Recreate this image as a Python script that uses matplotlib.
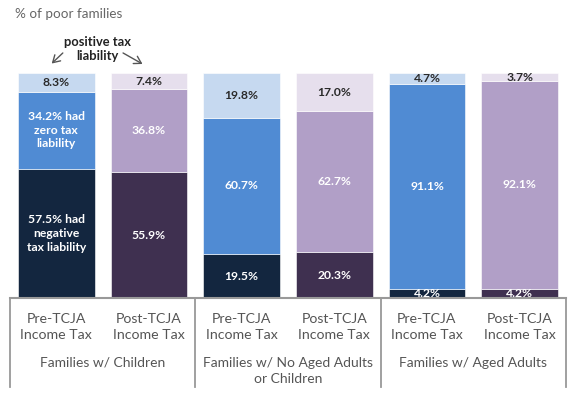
import matplotlib
matplotlib.use("Agg")
import matplotlib.pyplot as plt
import matplotlib.transforms as mtransforms

plt.rcParams['font.family'] = ['Lato', 'DejaVu Sans']

tick_labels = ["Pre-TCJA\nIncome Tax", "Post-TCJA\nIncome Tax"] * 3
group_labels = ["Families w/ Children", "Families w/ No Aged Adults\nor Children", "Families w/ Aged Adults"]
negative = [57.5, 55.9, 19.5, 20.3, 4.2, 4.2]
zero = [34.2, 36.8, 60.7, 62.7, 91.1, 92.1]
positive = [8.3, 7.4, 19.8, 17.0, 4.7, 3.7]

pre_colors = ["#13263f", "#508bd3", "#c6d9f0"]
post_colors = ["#3f3050", "#b19fc7", "#e6dfed"]

fig = plt.figure(figsize=(5.76, 3.94), dpi=100)
ax = fig.add_axes([10/576, 96/394, 556/576, 225/394])
ax.set_xlim(-0.5, 5.5)
ax.set_ylim(0, 100)

x = list(range(6))
w = 0.83
for i in x:
    cols = pre_colors if i % 2 == 0 else post_colors
    b0 = 0
    segs = [negative[i], zero[i], positive[i]]
    for k, v in enumerate(segs):
        ax.bar(i, v, bottom=b0, width=w, color=cols[k], edgecolor='white', linewidth=0.4)
        if i == 0 and k == 0:
            txt = "57.5% had\nnegative\ntax liability"
        elif i == 0 and k == 1:
            txt = "34.2% had\nzero tax\nliability"
        else:
            txt = f"{v:.1f}%"
        tc = "#2a2a2a" if k == 2 else "white"
        ax.text(i, b0 + v / 2, txt, ha='center', va='center', color=tc,
                fontsize=8.7, fontweight='bold', linespacing=1.3)
        b0 += v

for s in ['top', 'right', 'left']:
    ax.spines[s].set_visible(False)
ax.spines['bottom'].set_color('#999999')
ax.spines['bottom'].set_linewidth(1.5)
ax.set_yticks([])
ax.set_xticks(x)
ax.set_xticklabels(tick_labels, fontsize=10.2, color='#555555', linespacing=1.4)
ax.tick_params(axis='x', length=0, pad=10.5)

trans = mtransforms.blended_transform_factory(ax.transData, ax.transAxes)
for xb in [-0.5, 1.5, 3.5, 5.5]:
    ax.plot([xb, xb], [0, -0.396], transform=trans, color='#999999', lw=1.3, clip_on=False)

for g, lab in enumerate(group_labels):
    ax.text(2 * g + 0.5, -0.262, lab, transform=trans, ha='center', va='top',
            fontsize=10, color='#555555', linespacing=1.45)

fig.text(15/576, 1 - 14/394, "% of poor families", fontsize=9.7, color='#666666', va='center', ha='left')

ax.text(0.44, 110.7, "positive tax\nliability", ha='center', va='center', fontsize=9.3,
        fontweight='bold', color='#222222', clip_on=False, linespacing=1.25)
ax.annotate("", xy=(-0.05, 104.2), xytext=(0.07, 108.9), annotation_clip=False,
            arrowprops=dict(arrowstyle='->,head_length=0.5,head_width=0.3', color='#555555', lw=1.0,
                            shrinkA=0, shrinkB=0))
ax.annotate("", xy=(0.93, 104.0), xytext=(0.72, 108.9), annotation_clip=False,
            arrowprops=dict(arrowstyle='->,head_length=0.5,head_width=0.3', color='#555555', lw=1.0,
                            shrinkA=0, shrinkB=0))

fig.savefig("out.png", dpi=100)
